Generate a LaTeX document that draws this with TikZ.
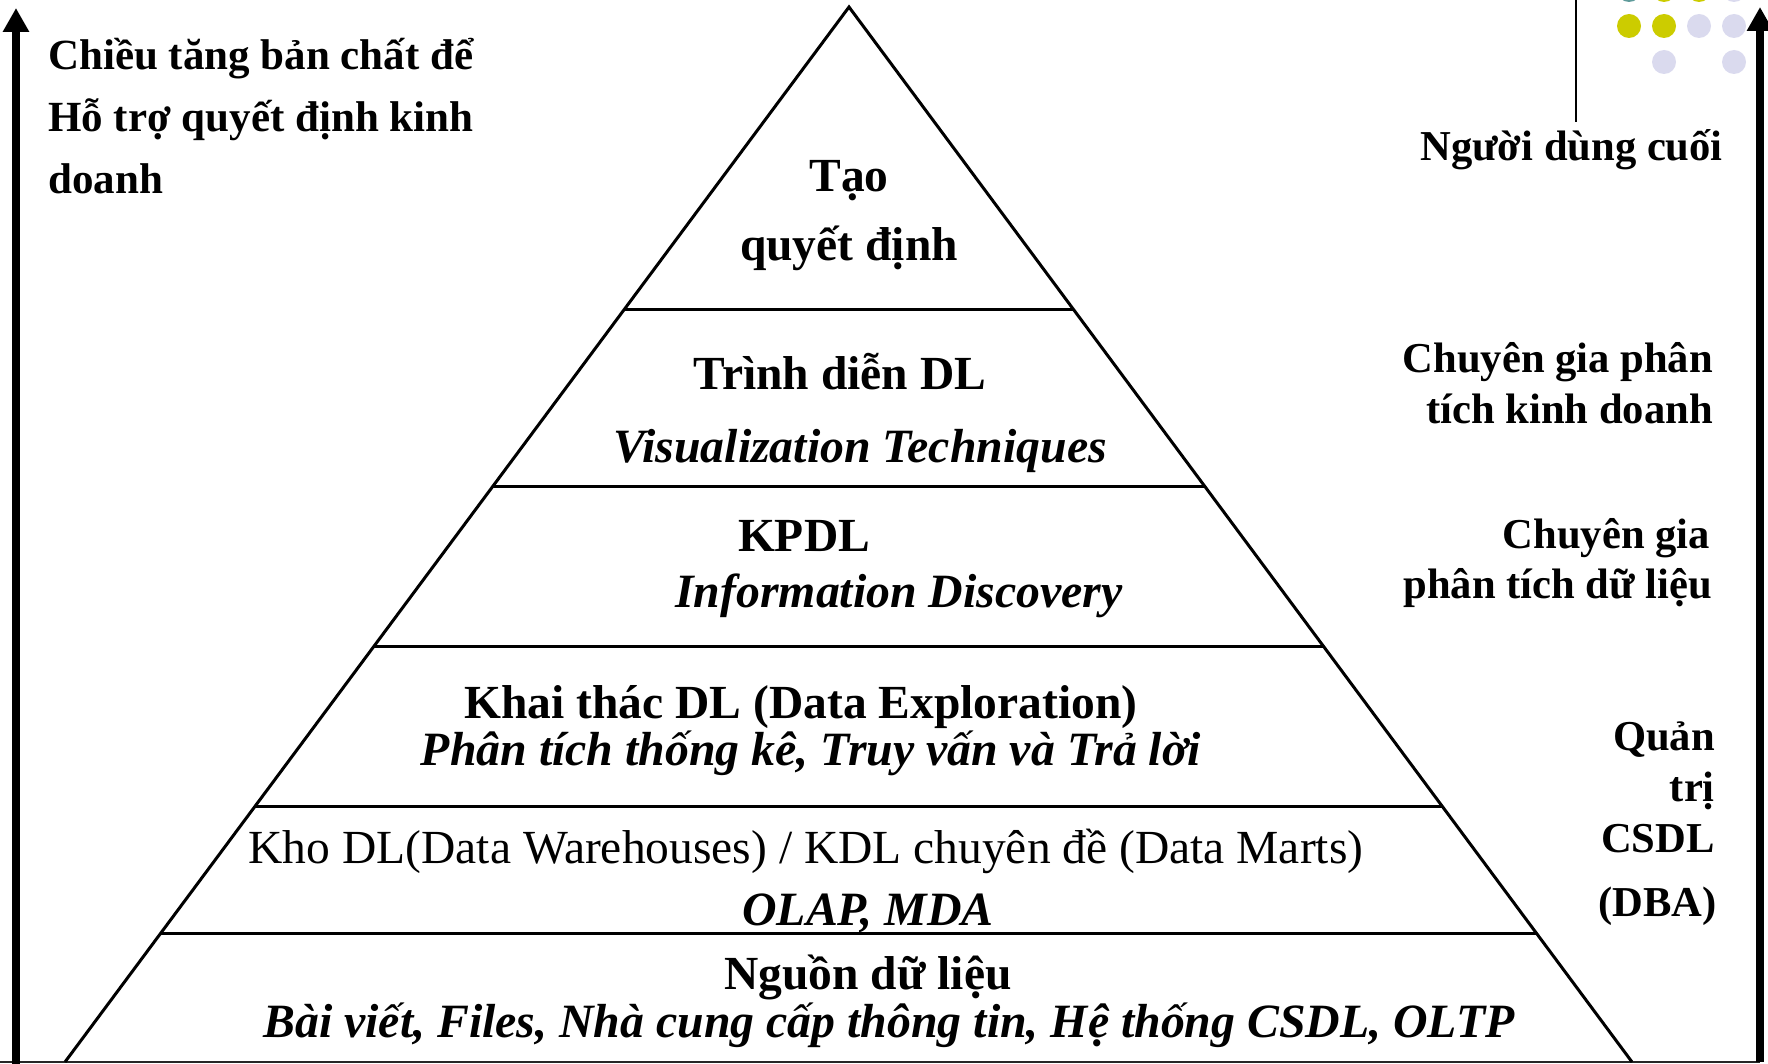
\documentclass[tikz,border=0pt]{standalone}
\usepackage{fontspec}
\setmainfont{Liberation Serif}
\usetikzlibrary{arrows.meta,calc}
\definecolor{dotteal}{RGB}{95,155,155}
\definecolor{dotolive}{RGB}{204,204,0}
\definecolor{dotlav}{RGB}{218,218,238}
\tikzset{
  lvl/.style={anchor=base, inner sep=0pt, font=\fontsize{47.5}{57}\selectfont\bfseries},
  lvlit/.style={anchor=base, inner sep=0pt, font=\fontsize{47.8}{57}\selectfont\bfseries\itshape},
  lvlrm/.style={anchor=base, inner sep=0pt, font=\fontsize{47.5}{57}\selectfont},
  sidelbl/.style={anchor=base east, inner sep=0pt, font=\fontsize{42.6}{50}\selectfont\bfseries},
  leftlbl/.style={anchor=base west, inner sep=0pt, font=\fontsize{43}{50}\selectfont\bfseries},
  axisarrow/.style={line width=7.5pt, -{Triangle[width=25pt,length=24pt]}},
  pyredge/.style={line width=3pt, line join=miter},
  tierline/.style={line width=3pt},
  dotfill/.style={circle, minimum size=24pt, inner sep=0pt, draw=none}
}
\begin{document}
\begin{tikzpicture}[x=1pt,y=-1pt]
  \useasboundingbox (0,0) rectangle (1768,1064);

  % decorative dot grid in the corner
  \node[dotfill, fill=dotteal]  (d11) at (1629,-10) {};
  \node[dotfill, fill=dotolive] (d12) at (1664,-10) {};
  \node[dotfill, fill=dotolive] (d13) at (1699,-10) {};
  \node[dotfill, fill=dotlav]   (d14) at (1734,-10) {};
  \node[dotfill, fill=dotolive] (d21) at (1629,26) {};
  \node[dotfill, fill=dotolive] (d22) at (1664,26) {};
  \node[dotfill, fill=dotlav]   (d23) at (1699,26) {};
  \node[dotfill, fill=dotlav]   (d24) at (1734,26) {};
  \node[dotfill, fill=dotlav]   (d32) at (1664,62) {};
  \node[dotfill, fill=dotlav]   (d34) at (1734,62) {};

  % thin rule hanging from the top edge
  \coordinate (ruleT) at (1576,0);
  \coordinate (ruleB) at (1576,122);
  \draw[line width=2pt] (ruleT) -- (ruleB);

  % ground line
  \coordinate (gl) at (0,1062);
  \coordinate (gr) at (1760,1062);
  \draw[line width=2.5pt, black!85] (gl) -- (gr);

  % pyramid
  \coordinate (apex) at (849,7);
  \coordinate (bl) at (65,1062);
  \coordinate (br) at (1632,1062);
  \draw[pyredge] (bl) -- (apex) -- (br);

  % tier separators
  \foreach \yy [count=\i] in {310,487,647,807,934} {
    \coordinate (tl\i) at ($(apex)!{(\yy-7)/1055}!(bl)$);
    \coordinate (tr\i) at ($(apex)!{(\yy-7)/1055}!(br)$);
    \draw[tierline] (tl\i) -- (tr\i);
  }

  % vertical axes
  \coordinate (laxB) at (16,1064);
  \coordinate (laxT) at (16,8);
  \draw[axisarrow] (laxB) -- (laxT);
  \coordinate (raxB) at (1760,1062);
  \coordinate (raxT) at (1760,7);
  \draw[axisarrow] (raxB) -- (raxT);

  % tier texts
  \node[lvl]   (tao)  at (849,192)  {Tạo};
  \node[lvl]   (qd)   at (849,261)  {quyết định};
  \node[lvl]   (tdd)  at (840,389)  {Trình diễn DL};
  \node[lvlit] (vt)   at (860,462)  {Visualization Techniques};
  \node[lvl]   (kpdl) at (804,551)  {KPDL};
  \node[lvlit] (idis) at (899,607)  {Information Discovery};
  \node[lvl]   (ktdl) at (801,718)  {Khai thác DL (Data Exploration)};
  \node[lvlit] (ptk)  at (811,765)  {Phân tích thống kê, Truy vấn và Trả lời};
  \node[lvlrm] (kho)  at (806,863)  {Kho DL(Data Warehouses) / KDL chuyên đề (Data Marts)};
  \node[lvlit] (olap) at (868,925)  {OLAP, MDA};
  \node[lvl]   (ndl)  at (868,989)  {Nguồn dữ liệu};
  \node[lvlit] (bv)   at (889,1037) {Bài viết, Files, Nhà cung cấp thông tin, Hệ thống CSDL, OLTP};

  % left caption
  \node[leftlbl] (lc1) at (48,70)  {Chiều tăng bản chất để};
  \node[leftlbl] (lc2) at (48,132) {Hỗ trợ quyết định kinh};
  \node[leftlbl] (lc3) at (48,194) {doanh};

  % roles on the right
  \node[sidelbl] (r1)  at (1723,161) {Người dùng cuối};
  \node[sidelbl] (r2a) at (1713,372) {Chuyên gia phân};
  \node[sidelbl] (r2b) at (1713,423) {tích kinh doanh};
  \node[sidelbl] (r3a) at (1710,548) {Chuyên gia};
  \node[sidelbl] (r3b) at (1712,598) {phân tích dữ liệu};
  \node[sidelbl] (r4a) at (1715,750) {Quản};
  \node[sidelbl] (r4b) at (1715,801) {trị};
  \node[sidelbl] (r4c) at (1715,852) {CSDL};
  \node[sidelbl] (r4d) at (1717,916) {(DBA)};
\end{tikzpicture}
\end{document}
